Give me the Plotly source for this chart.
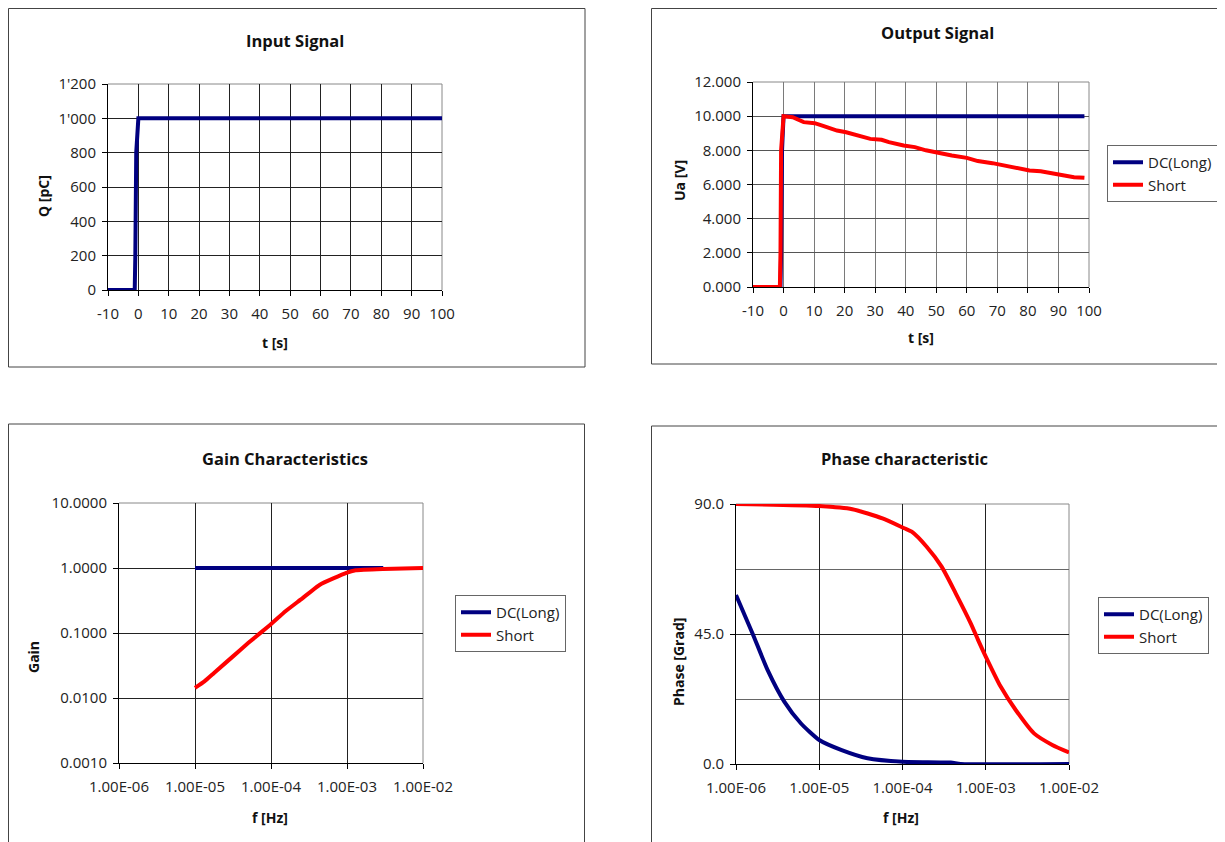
import plotly.graph_objects as go

W, H = 1225, 842
OFF = 8  # page body margin of the browser

# ---------------- data ----------------
# Input signal
in_t = [-10, -1.2, -1.0, -0.7, 0, 100]
in_q = [0, 0, 200, 800, 1000, 1000]

# Output signal
out_dc_t = [-10, -1.0, -0.8, -0.5, 0, 2, 98.5]
out_dc_u = [0, 0, 2, 8, 10, 10, 10]
out_sh_t = [-10, -1.2, -1.0, -0.8, 0, 3.0, 6.6, 10.2, 12.7, 17.5, 20.5, 24.8, 28.4, 32.1,
            34.5, 39.3, 43.0, 46.6, 51.5, 55.1, 60.0, 63.6, 68.4, 70.8, 75.7, 80.5,
            84.2, 87.8, 92.7, 95.1, 98.5]
out_sh_u = [0, 0, 2, 8, 10, 9.94, 9.65, 9.59, 9.45, 9.16, 9.06, 8.87, 8.67, 8.62,
            8.48, 8.28, 8.19, 8.00, 7.80, 7.70, 7.56, 7.37, 7.25, 7.17, 7.02, 6.82,
            6.78, 6.67, 6.53, 6.43, 6.39]

# Gain characteristics
gain_dc_f = [1e-5, 1e-4, 1e-3, 3e-3]
gain_dc_g = [1.0, 1.0, 1.0, 1.0]
gain_sh_f = [1e-5, 1.33e-5, 1.78e-5, 3.16e-5, 5e-5, 9.8e-5, 1.55e-4, 2.45e-4,
             4.4e-4, 9.8e-4, 1.3e-3, 3e-3, 1e-2]
gain_sh_g = [0.0143, 0.018, 0.0243, 0.0437, 0.070, 0.134, 0.216, 0.326,
             0.554, 0.84, 0.92, 0.965, 1.0]

# Phase characteristic
ph_dc_f = [1e-6, 1.58e-6, 2.4e-6, 3.8e-6, 6.0e-6, 1e-5, 1.86e-5, 3.8e-5, 1e-4,
           3.8e-4, 5e-4, 1e-2]
ph_dc_p = [58.5, 45.2, 32.5, 21.6, 14.1, 8.3, 4.8, 2.0, 0.8, 0.5, 0.0, 0.0]
ph_sh_f = [1e-6, 1e-5, 2.5e-5, 5.75e-5, 1.05e-4, 1.29e-4, 1.95e-4, 2.95e-4,
           4.37e-4, 6.6e-4, 8.1e-4, 1e-3, 1.51e-3, 2.29e-3, 3.8e-3, 6.3e-3, 1e-2]
ph_sh_p = [90.0, 89.3, 88.2, 85.0, 81.6, 80.4, 75.2, 68.3, 59.0, 48.7, 42.9,
           37.2, 26.8, 18.7, 10.6, 6.6, 4.0]

# tick labels
in_y_ticks = [0, 200, 400, 600, 800, 1000, 1200]
t_ticks = [-10, 0, 10, 20, 30, 40, 50, 60, 70, 80, 90, 100]
t_ticktext = ["-10", "0", "10", "20", "30", "40", "50", "60", "70", "80", "90", "100"]
out_y_ticks = [0, 2, 4, 6, 8, 10, 12]
f_ticks = [1e-6, 1e-5, 1e-4, 1e-3, 1e-2]
f_ticktext = ["1.00E-06", "1.00E-05", "1.00E-04", "1.00E-03", "1.00E-02"]
gain_ticks = [0.001, 0.01, 0.1, 1, 10]
gain_ticktext = ["0.0010", "0.0100", "0.1000", "1.0000", "10.0000"]
phase_ticks = [0, 45, 90]
phase_ticktext = ["0.0", "45.0", "90.0"]

NAVY = "#000080"
RED = "#FF0000"
FONT = "Open Sans"


def px(x):
    return (x - OFF) / W


def py(y):
    return 1 - (y - OFF) / H


def xd(a, b):
    return [px(a), px(b)]


def yd(top, bottom):
    return [py(bottom), py(top)]


fig = go.Figure()

# traces
fig.add_trace(go.Scatter(x=in_t, y=in_q, mode="lines", line=dict(color=NAVY, width=4),
                         xaxis="x", yaxis="y", showlegend=False))
fig.add_trace(go.Scatter(x=out_dc_t, y=out_dc_u, mode="lines", name="DC(Long)",
                         line=dict(color=NAVY, width=4), xaxis="x2", yaxis="y2", legend="legend"))
fig.add_trace(go.Scatter(x=out_sh_t, y=out_sh_u, mode="lines", name="Short",
                         line=dict(color=RED, width=4), xaxis="x2", yaxis="y2", legend="legend"))
fig.add_trace(go.Scatter(x=gain_dc_f, y=gain_dc_g, mode="lines", name="DC(Long)",
                         line=dict(color=NAVY, width=4), xaxis="x3", yaxis="y3", legend="legend2"))
fig.add_trace(go.Scatter(x=gain_sh_f, y=gain_sh_g, mode="lines", name="Short",
                         line=dict(color=RED, width=4, shape="spline", smoothing=0.4),
                         xaxis="x3", yaxis="y3", legend="legend2"))
fig.add_trace(go.Scatter(x=ph_dc_f, y=ph_dc_p, mode="lines", name="DC(Long)",
                         line=dict(color=NAVY, width=4, shape="spline", smoothing=0.6),
                         xaxis="x4", yaxis="y4", legend="legend3"))
fig.add_trace(go.Scatter(x=ph_sh_f, y=ph_sh_p, mode="lines", name="Short",
                         line=dict(color=RED, width=4, shape="spline", smoothing=0.6),
                         xaxis="x4", yaxis="y4", legend="legend3"))

tickfont = dict(family=FONT, size=15, color="#222")
common = dict(showline=True, linecolor="black", linewidth=1, ticks="outside", ticklen=5,
              tickcolor="black", tickfont=tickfont, zeroline=False, showgrid=True,
              gridwidth=1, fixedrange=True, automargin=False)
xcommon = dict(ticklabelstandoff=5, **common)
ycommon = dict(ticklabelstandoff=3, **common)

fig.update_layout(
    width=W, height=H, margin=dict(l=0, r=0, t=0, b=0, pad=0, autoexpand=False),
    paper_bgcolor="white", plot_bgcolor="white",
    separators=".'",
    font=dict(family=FONT, color="#222"),
    xaxis=dict(domain=xd(108, 442), anchor="y", range=[-10, 100], tickvals=t_ticks,
               ticktext=t_ticktext, gridcolor="#222", **xcommon),
    yaxis=dict(domain=yd(84, 290), anchor="x", range=[0, 1200], tickvals=in_y_ticks,
               tickformat=",d", gridcolor="#222", **ycommon),
    xaxis2=dict(domain=xd(753, 1089), anchor="y2", range=[-10, 100], tickvals=t_ticks,
                ticktext=t_ticktext, gridcolor="#7a7a7a", **xcommon),
    yaxis2=dict(domain=yd(82, 287), anchor="x2", range=[0, 12], tickvals=out_y_ticks,
                tickformat=".3f", gridcolor="#555", **ycommon),
    xaxis3=dict(domain=xd(119, 423), anchor="y3", type="log", range=[-6, -2],
                tickvals=f_ticks, ticktext=f_ticktext, gridcolor="#222", **xcommon),
    yaxis3=dict(domain=yd(503, 763), anchor="x3", type="log", range=[-3, 1],
                tickvals=gain_ticks, ticktext=gain_ticktext, gridcolor="#222", **ycommon),
    xaxis4=dict(domain=xd(736, 1069), anchor="y4", type="log", range=[-6, -2],
                tickvals=f_ticks, ticktext=f_ticktext, gridcolor="#222", **xcommon),
    yaxis4=dict(domain=yd(504, 764), anchor="x4", range=[0, 90],
                tickvals=phase_ticks, ticktext=phase_ticktext, gridcolor="#222",
                minor=dict(dtick=22.5, showgrid=True, gridcolor="#666", gridwidth=1, ticks=""),
                **ycommon),
)

legend_common = dict(bgcolor="white", bordercolor="#666", borderwidth=1,
                     font=dict(family=FONT, size=15, color="#222"),
                     xanchor="left", yanchor="top", itemwidth=30, tracegroupgap=0)
fig.update_layout(
    legend=dict(x=px(1107), y=py(145), **legend_common),
    legend2=dict(x=px(455), y=py(595), **legend_common),
    legend3=dict(x=px(1098), y=py(597), **legend_common),
)

# panel borders
bcol = dict(color="#444", width=1)
shapes = [
    dict(type="rect", xref="paper", yref="paper", x0=px(8.5), x1=px(585),
         y0=py(367), y1=py(8.5), line=bcol),
    dict(type="rect", xref="paper", yref="paper", x0=px(651.5), x1=px(1240),
         y0=py(364), y1=py(8.5), line=bcol),
    dict(type="rect", xref="paper", yref="paper", x0=px(8.5), x1=px(584.5),
         y0=py(860), y1=py(424), line=bcol),
    dict(type="rect", xref="paper", yref="paper", x0=px(651.5), x1=px(1240),
         y0=py(860), y1=py(426), line=bcol),
]
# plot-area top/right borders (gray)
for xa, ya in [("x", "y"), ("x2", "y2"), ("x3", "y3"), ("x4", "y4")]:
    shapes.append(dict(type="line", xref=f"{xa} domain", yref=f"{ya} domain",
                       x0=0, x1=1, y0=1, y1=1, line=dict(color="#888", width=1), layer="below"))
    shapes.append(dict(type="line", xref=f"{xa} domain", yref=f"{ya} domain",
                       x0=1, x1=1, y0=0, y1=1, line=dict(color="#888", width=1), layer="below"))
fig.update_layout(shapes=shapes)


# annotations: titles and axis titles
def ann(text, x, y, size, bold=True, angle=0):
    return dict(text=f"<b>{text}</b>" if bold else text, x=px(x), y=py(y),
                xref="paper", yref="paper", showarrow=False, textangle=angle,
                xanchor="center", yanchor="middle",
                font=dict(family=FONT, size=size, color="#111"))


annotations = [
    ann("Input Signal", 295, 40, 16.5),
    ann("Output Signal", 937, 33, 16.5),
    ann("Gain Characteristics", 285, 458, 16.5),
    ann("Phase characteristic", 904, 458, 16.5),
    ann("t [s]", 275, 342, 14),
    ann("Q [pC]", 44, 196, 14, angle=-90),
    ann("t [s]", 921, 337, 14),
    ann("Ua [V]", 679, 181, 14, angle=-90),
    ann("f [Hz]", 270, 817, 14),
    ann("Gain", 33, 657, 14, angle=-90),
    ann("f [Hz]", 901, 817, 14),
    ann("Phase [Grad]", 678, 662, 14, angle=-90),
]
fig.update_layout(annotations=annotations)

fig.write_html("out.html")
